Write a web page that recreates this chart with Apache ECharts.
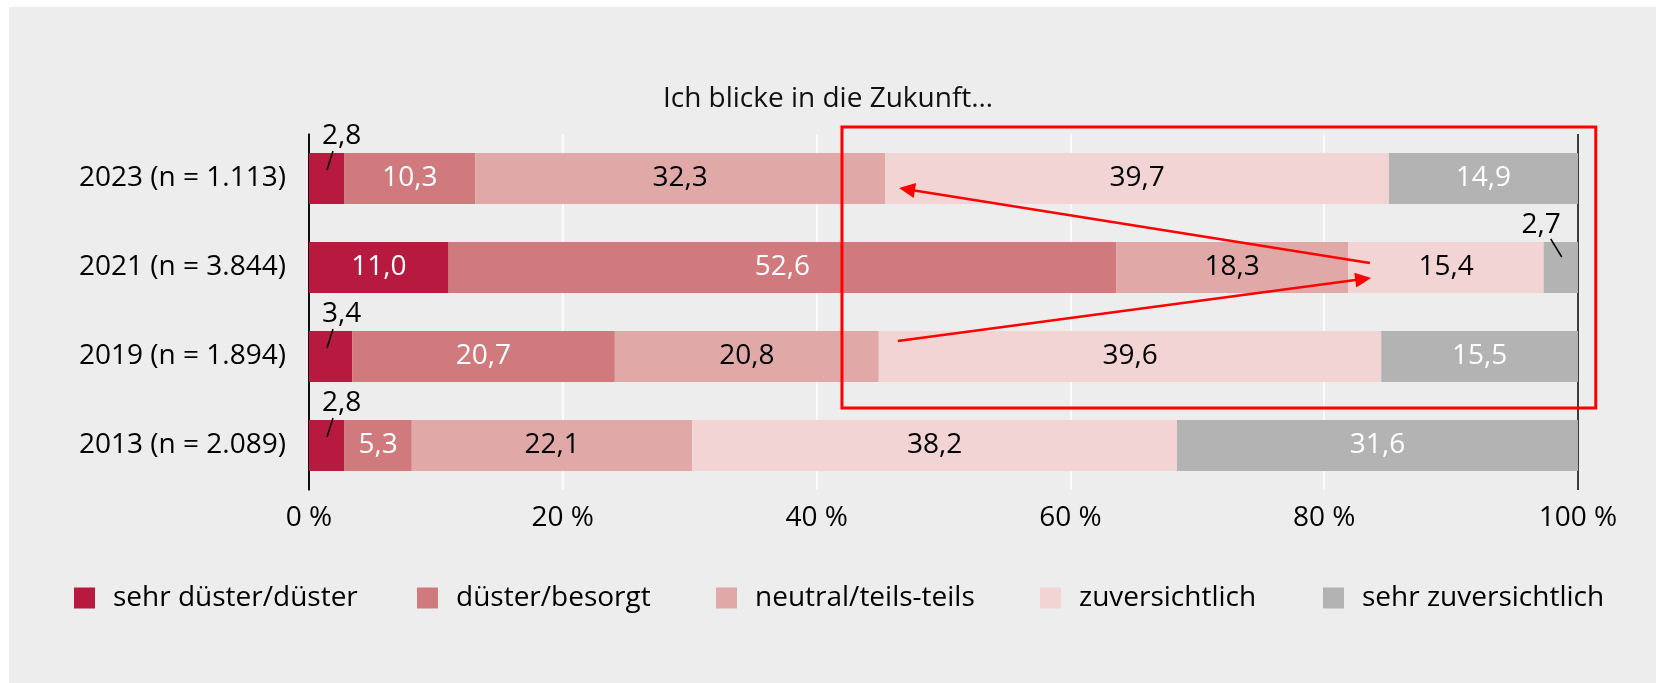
<!DOCTYPE html>
<html>
<head>
<meta charset="utf-8">
<script src="https://cdn.jsdelivr.net/npm/echarts@6/dist/echarts.min.js"></script>
<style>
html, body { margin: 0; padding: 0; background: #fff; }
#main { position: absolute; left: 0; top: 0; width: 1656px; height: 683px;
        background: #ededed; box-shadow: inset 9px 7px 0 0 #fff; }
</style>
</head>
<body>
<div id="main"></div>
<script>
var categories = ['2023 (n = 1.113)', '2021 (n = 3.844)', '2019 (n = 1.894)', '2013 (n = 2.089)'];
var seriesNames = ['sehr düster/düster', 'düster/besorgt', 'neutral/teils-teils', 'zuversichtlich', 'sehr zuversichtlich'];
var sehrDuester = [2.8, 11.0, 3.4, 2.8];
var duester = [10.3, 52.6, 20.7, 5.3];
var neutral = [32.3, 18.3, 20.8, 22.1];
var zuversichtlich = [39.7, 15.4, 39.6, 38.2];
var sehrZuversichtlich = [14.9, 2.7, 15.5, 31.6];
var xTicks = [0, 20, 40, 60, 80, 100];

var FONT = 'Open Sans';
var colors = ['#b8193e', '#d17a7d', '#e0a9a8', '#f1d4d3', '#b2b3b2'];
var labelColors = ['#fff', '#fff', '#000', '#000', '#fff'];
var allValues = [sehrDuester, duester, neutral, zuversichtlich, sehrZuversichtlich];

function fmt(v) { return v.toFixed(1).replace('.', ','); }

var chart = echarts.init(document.getElementById('main'));

var series = allValues.map(function (vals, s) {
    return {
        name: seriesNames[s],
        type: 'bar',
        stack: 'total',
        barWidth: 51,
        silent: true,
        itemStyle: { color: colors[s] },
        label: {
            show: true,
            position: 'inside',
            color: labelColors[s],
            fontSize: 28,
            fontFamily: FONT,
            formatter: function (p) { return fmt(p.value); }
        },
        data: vals.map(function (v) {
            if (v >= 5) return v;
            // small segments: label outside, above the bar
            var left = s === 0;
            return {
                value: v,
                label: {
                    position: left ? [13, -3] : [17, -3],
                    align: left ? 'left' : 'right',
                    verticalAlign: 'bottom',
                    color: '#000'
                }
            };
        })
    };
});

var legendLefts = [74, 417, 716, 1040, 1323];
var legends = seriesNames.map(function (n, i) {
    return {
        data: [n],
        left: legendLefts[i],
        top: 584,
        padding: 0,
        itemWidth: 21,
        itemHeight: 21,
        icon: 'rect',
        selectedMode: false,
        textStyle: { fontSize: 28, fontFamily: FONT, color: '#000', padding: [0, 0, 0, 13] }
    };
});

chart.setOption({
    animation: false,
    title: {
        text: 'Ich blicke in die Zukunft…',
        left: 'center',
        top: 80,
        textStyle: { fontSize: 28, fontWeight: 'normal', fontFamily: FONT, color: '#111' }
    },
    legend: legends,
    grid: { left: 309, right: 78, top: 134, height: 356 },
    xAxis: {
        type: 'value',
        min: xTicks[0],
        max: xTicks[xTicks.length - 1],
        interval: xTicks[1] - xTicks[0],
        axisLine: { show: false },
        axisTick: { show: false },
        axisLabel: { fontSize: 28, fontFamily: FONT, color: '#000', margin: 14, formatter: '{value} %' },
        splitLine: { show: true, lineStyle: { color: ['#000', '#fff', '#fff', '#fff', '#fff', '#000'], width: 1.5 } }
    },
    yAxis: {
        type: 'category',
        inverse: true,
        data: categories,
        axisLine: { show: true, lineStyle: { color: '#000', width: 1.5 } },
        axisTick: { show: false },
        axisLabel: { fontSize: 28, fontFamily: FONT, color: '#000', margin: 23 }
    },
    series: series
});

// annotations, placed through the axes' scales
function xPx(v) { return chart.convertToPixel({ xAxisIndex: 0 }, v); }
function yPx(c) { return chart.convertToPixel({ yAxisIndex: 0 }, c); }
var band = yPx(categories[1]) - yPx(categories[0]);
var RED = '#ff0000';

function arrow(x1, y1, x2, y2) {
    var dx = x2 - x1, dy = y2 - y1, len = Math.sqrt(dx * dx + dy * dy);
    var ux = dx / len, uy = dy / len, hl = 16, hw = 7.5;
    var bx = x2 - ux * hl, by = y2 - uy * hl;
    return [
        { type: 'line', z: 100, shape: { x1: x1, y1: y1, x2: bx + ux * 2, y2: by + uy * 2 },
          style: { stroke: RED, lineWidth: 2.5 } },
        { type: 'polygon', z: 100, shape: { points: [[x2, y2], [bx - uy * hw, by + ux * hw], [bx + uy * hw, by - ux * hw]] },
          style: { fill: RED } }
    ];
}

var graphics = [];
// leader lines for the small outside labels
allValues.forEach(function (vals, s) {
    vals.forEach(function (v, i) {
        if (v >= 5) return;
        var start = 0;
        for (var k = 0; k < s; k++) start += allValues[k][i];
        var x0 = xPx(start), top = yPx(categories[i]) - 25.5;
        var pts = s === 0 ? [x0 + 24, top - 2, x0 + 18, top + 17] : [x0 + 7, top - 3, x0 + 18, top + 15];
        graphics.push({ type: 'line', z: 100, shape: { x1: pts[0], y1: pts[1], x2: pts[2], y2: pts[3] },
            style: { stroke: '#000', lineWidth: 1.5 } });
    });
});

var y0 = yPx(categories[0]), y1 = yPx(categories[1]), y2 = yPx(categories[2]);
var rx1 = xPx(42.0), rx2 = xPx(101.4);
var ry1 = y0 - 0.58 * band, ry2 = y2 + 0.58 * band;
graphics.push({ type: 'rect', z: 100, shape: { x: rx1, y: ry1, width: rx2 - rx1, height: ry2 - ry1 },
    style: { fill: 'none', stroke: RED, lineWidth: 3 } });
graphics = graphics.concat(arrow(xPx(83.6), y1 - 4.5, xPx(46.5), y0 + 9.5));
graphics = graphics.concat(arrow(xPx(46.4), y2 - 15.5, xPx(83.7), y1 + 10.5));

chart.setOption({ graphic: graphics });
</script>
</body>
</html>
